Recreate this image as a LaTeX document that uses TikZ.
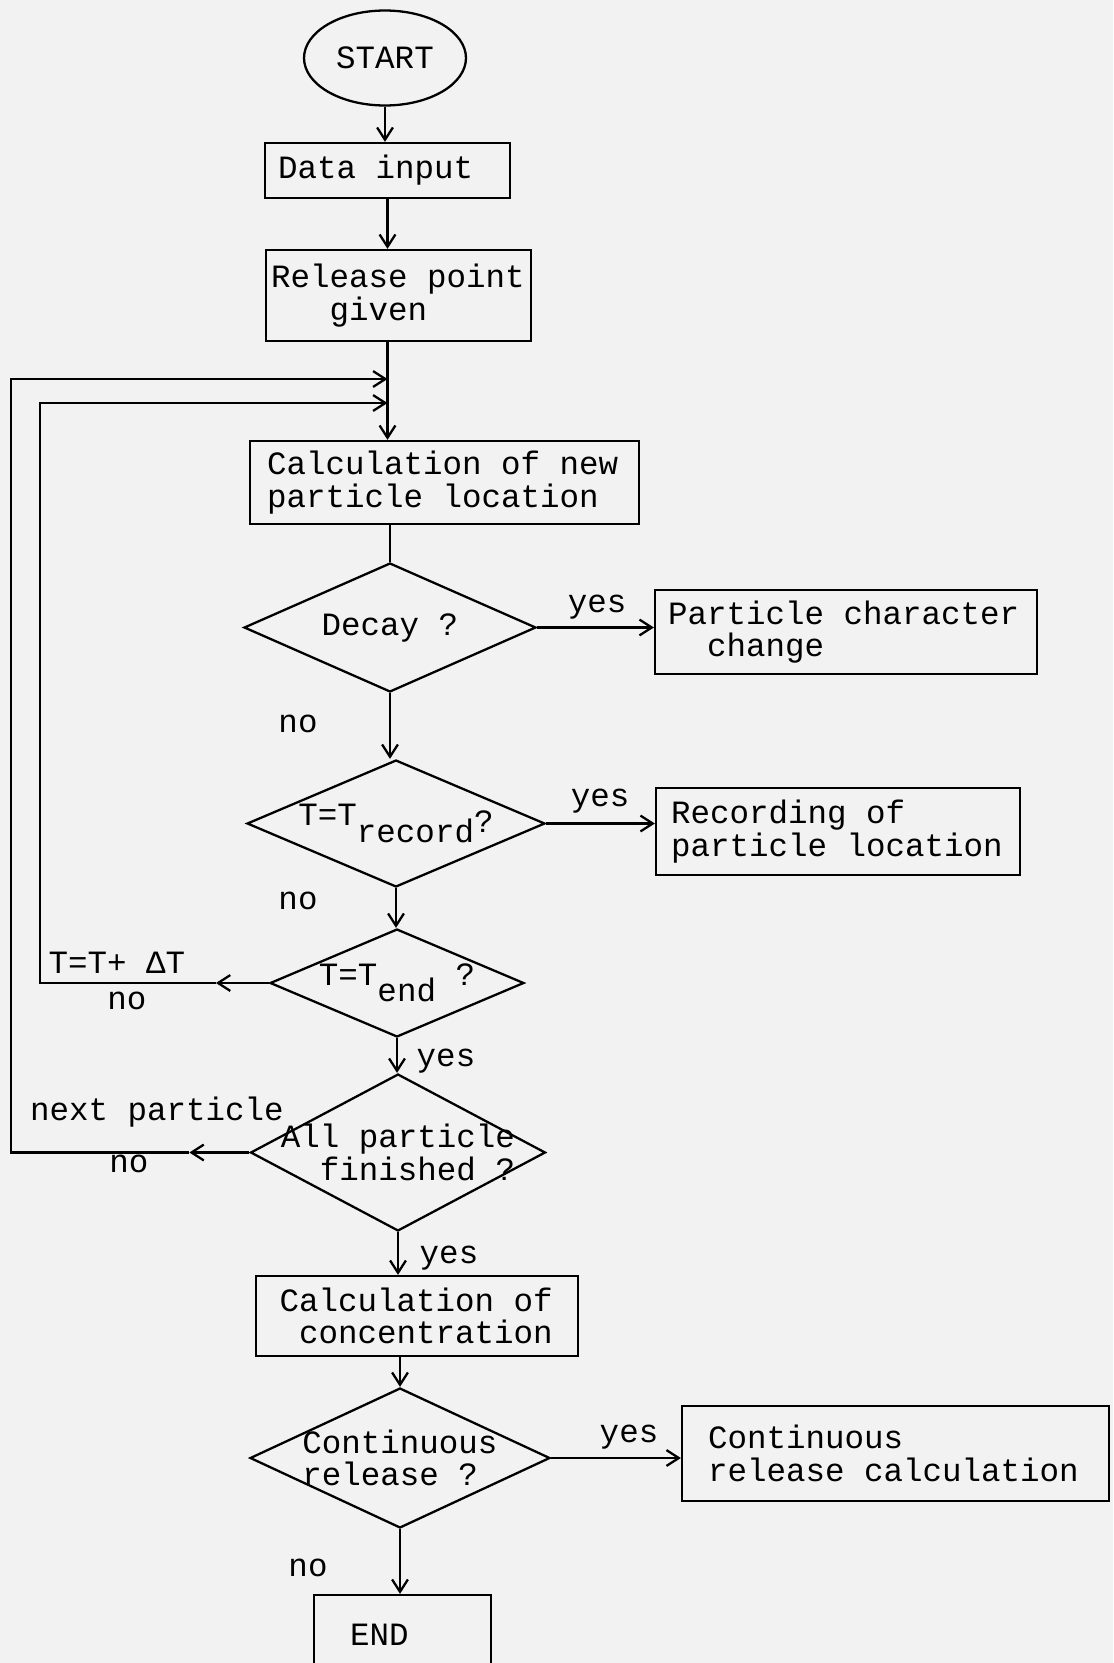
\documentclass[tikz,border=0pt]{standalone}
\usepackage{fontspec}
\setmonofont{Liberation Mono}[WordSpace={1,0,0}]
\usetikzlibrary{positioning, arrows.meta, shapes.geometric, calc}

\begin{document}
\begin{tikzpicture}[
    x=0.02cm, y=-0.02cm,
    font=\ttfamily\fontsize{18.5}{18.5}\selectfont,
    terminal/.style={ellipse, draw, line width=1.3pt, inner sep=0pt, minimum width=3.24cm, minimum height=1.9cm},
    block/.style={rectangle, draw, line width=1.3pt, align=flush left, inner ysep=0pt},
    decision/.style={diamond, draw, line width=1.3pt, inner sep=0pt},
    line/.style={line width=1.3pt},
    arrow/.style={->, line width=1.3pt, >={Straight Barb[length=7pt, width=9pt]}},
    tag/.style={inner sep=0pt}
]

% Page
\path[use as bounding box, fill=black!5] (0,0) rectangle (1113,1663);

% Nodes
\node[terminal] (start) at (385,58) {START};

\node[block, inner xsep=0.26cm, text width=4.38cm, minimum height=1.1cm] (data) at (387.5,170.5) {Data input};

\node[block, inner xsep=0.1cm, text width=5.1cm, minimum height=1.82cm] (release) at (398.5,295.5) {Release point\\\hphantom{Rel}given};

\node[block, inner xsep=0.34cm, text width=7.1cm, minimum height=1.66cm] (calc) at (444.5,482.5) {Calculation of new\\particle location};

\node[decision, minimum width=5.84cm, minimum height=2.58cm, label=center:{Decay ?}] (decay) at (390,627.5) {};

\node[block, inner xsep=0.26cm, text width=7.12cm, minimum height=1.68cm] (pcc) at (846,632) {Particle character\\\hphantom{Pa}change};

\node[decision, minimum width=5.96cm, minimum height=2.54cm, label=center:{T=T\raisebox{-1ex}{record}\raisebox{-0.4ex}{?}}] (trec) at (396,823.5) {};

\node[block, inner xsep=0.3cm, text width=6.68cm, minimum height=1.74cm] (rec) at (838,831.5) {Recording of\\particle location};

\node[decision, minimum width=5.08cm, minimum height=2.16cm, label=center:{T=T\raisebox{-0.9ex}{end} ?}] (tend) at (397,983) {};

\node[decision, minimum width=5.9cm, minimum height=3.14cm, label={[align=right]center:{All particle\\finished ?}}] (all) at (398,1152.5) {};

\node[block, inner xsep=0.47cm, text width=5.5cm, minimum height=1.6cm] (conc) at (417,1316) {Calculation of\\\hphantom{C}concentration};

\node[decision, minimum width=6cm, minimum height=2.8cm, label={[align=left]center:{Continuous\\release ?}}] (cont) at (400,1458) {};

\node[block, inner xsep=0.52cm, text width=7.5cm, minimum height=1.9cm] (cbox) at (895.5,1453.5) {Continuous\\release calculation};

\node[block, inner xsep=0.72cm, text width=2.1cm, minimum height=1.6cm] (stop) at (402.5,1635) {END};

% Loop points
\coordinate (loop1) at (387.5,379);
\coordinate (loop2) at (387.5,403);
\coordinate (outer) at (11,379);
\coordinate (inner) at (40,403);

% Arrows
\draw[arrow] (start.south) -- (start.south |- data.north);
\draw[arrow] (data.south) -- (data.south |- release.north);
\draw[arrow] (release.south -| data.south) -- (data.south |- calc.north);
\draw[line] (calc.south -| decay.north) -- (decay.north);
\draw[arrow] (decay.east) -- (decay.east -| pcc.west);
\draw[arrow] (decay.south) -- (decay.south |- trec.north);
\draw[arrow] (trec.east) -- (trec.east -| rec.west);
\draw[arrow] (trec.south) -- (trec.south |- tend.north);
\draw[arrow] (tend.south) -- (tend.south |- all.north);
\draw[arrow] (all.south) -- (all.south |- conc.north);
\draw[arrow] (conc.south -| cont.north) -- (cont.north);
\draw[arrow] (cont.east) -- (cont.east -| cbox.west);
\draw[arrow] (cont.south) -- (cont.south |- stop.north);

% Time step and next particle loops
\draw[arrow] (tend.west) -- ++(-53,0) coordinate (tendno);
\draw[arrow] (tendno) -| (inner) -- (loop2);
\draw[arrow] (all.west) -- ++(-60,0) coordinate (allno);
\draw[arrow] (allno) -| (outer) -- (loop1);

% Labels
\node[tag] (yes1) at (597,607) {yes};
\node[tag] (no1) at (298,724) {no};
\node[tag] (yes2) at (600,801) {yes};
\node[tag] (no2) at (298,901) {no};
\node[tag] (tstep) at (117,963) {T=T+ ΔT};
\node[tag] (no3) at (127,1001) {no};
\node[tag] (yes3) at (446,1061) {yes};
\node[tag] (nextp) at (157,1112) {next particle};
\node[tag] (no4) at (129,1164) {no};
\node[tag] (yes4) at (449,1258) {yes};
\node[tag] (yes5) at (629,1437) {yes};
\node[tag] (no5) at (308,1568) {no};

\end{tikzpicture}
\end{document}
